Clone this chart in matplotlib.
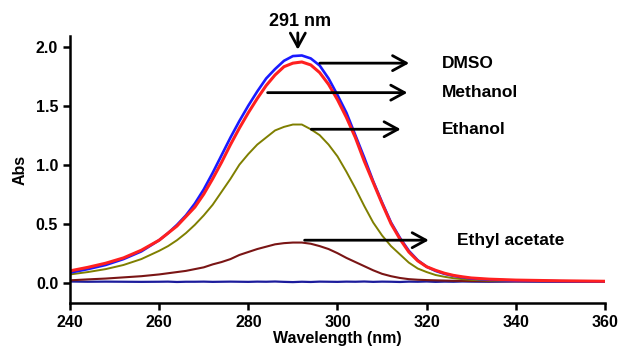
import matplotlib.pyplot as plt

plt.rcParams['font.family'] = ['Liberation Sans', 'DejaVu Sans']
plt.rcParams['font.weight'] = 'bold'

# Wavelength grid (nm) and absorbance.
wavelength = [240, 244, 248, 252, 256, 260, 262, 264, 266, 268, 270, 272, 274,
              276, 278, 280, 282, 284, 286, 288, 290, 292, 294, 296, 298, 300,
              302, 304, 306, 308, 310, 312, 314, 316, 318, 320, 322, 324, 326,
              328, 330, 334, 340, 350, 360]

dmso = [0.085, 0.115, 0.15, 0.20, 0.265, 0.36, 0.42, 0.49, 0.57, 0.67, 0.79,
        0.93, 1.08, 1.23, 1.37, 1.50, 1.62, 1.73, 1.81, 1.88, 1.92, 1.925,
        1.90, 1.84, 1.73, 1.59, 1.44, 1.25, 1.06, 0.86, 0.68, 0.51, 0.38, 0.27,
        0.19, 0.135, 0.10, 0.075, 0.058, 0.045, 0.035, 0.025, 0.017, 0.012,
        0.01]
methanol = [0.10, 0.13, 0.165, 0.21, 0.275, 0.36, 0.42, 0.48, 0.56, 0.64, 0.75,
            0.88, 1.02, 1.17, 1.31, 1.44, 1.56, 1.67, 1.76, 1.83, 1.86, 1.87,
            1.845, 1.78, 1.68, 1.55, 1.40, 1.23, 1.03, 0.85, 0.67, 0.50, 0.37,
            0.26, 0.185, 0.135, 0.105, 0.08, 0.062, 0.05, 0.04, 0.03, 0.022,
            0.016, 0.012]
ethanol = [0.07, 0.09, 0.115, 0.15, 0.20, 0.27, 0.31, 0.36, 0.42, 0.49, 0.57,
           0.66, 0.77, 0.88, 1.00, 1.09, 1.17, 1.23, 1.29, 1.32, 1.34, 1.34,
           1.30, 1.25, 1.17, 1.07, 0.94, 0.80, 0.65, 0.51, 0.40, 0.31, 0.24,
           0.17, 0.12, 0.09, 0.065, 0.05, 0.038, 0.03, 0.024, 0.018, 0.015,
           0.012, 0.01]
ethyl_acetate = [0.02, 0.028, 0.035, 0.045, 0.055, 0.07, 0.08, 0.09, 0.10,
                 0.115, 0.13, 0.155, 0.175, 0.20, 0.235, 0.26, 0.285, 0.305,
                 0.325, 0.335, 0.34, 0.34, 0.33, 0.31, 0.285, 0.25, 0.21,
                 0.175, 0.14, 0.105, 0.075, 0.055, 0.04, 0.03, 0.025, 0.022,
                 0.02, 0.018, 0.016, 0.015, 0.014, 0.013, 0.012, 0.011, 0.01]
baseline = [0.010, 0.008, 0.009, 0.008, 0.007, 0.008, 0.009, 0.006, 0.008,
            0.008, 0.009, 0.007, 0.008, 0.009, 0.008, 0.007, 0.009, 0.008,
            0.010, 0.007, 0.005, 0.008, 0.006, 0.009, 0.008, 0.007, 0.009,
            0.008, 0.010, 0.007, 0.009, 0.008, 0.006, 0.009, 0.008, 0.010,
            0.007, 0.009, 0.008, 0.010, 0.009, 0.008, 0.010, 0.009, 0.009]

# Label arrows: (text, arrow start nm, arrow end nm, y, text x)
labels = [('DMSO', 295.4, 316.7, 1.86, 323.4),
          ('Methanol', 283.7, 316.3, 1.61, 323.4),
          ('Ethanol', 293.5, 314.8, 1.30, 323.4),
          ('Ethyl acetate', 292.0, 321.1, 0.36, 326.7)]

fig = plt.figure(figsize=(6.22, 3.55), dpi=100)
ax = fig.add_axes([0.1125, 0.1465, 0.8602, 0.7521])

ax.plot(wavelength, baseline, color='#1c1c9c', lw=1.6)
ax.plot(wavelength, ethyl_acetate, color='#7a1515', lw=1.5)
ax.plot(wavelength, ethanol, color='#7f7f00', lw=1.4)
ax.plot(wavelength, dmso, color='#1a1aff', lw=1.9)
ax.plot(wavelength, methanol, color='#ff2020', lw=2.2)

arrow = dict(arrowstyle='->,head_length=0.55,head_width=0.3',
             lw=2.0, color='black', mutation_scale=18)
for name, x0, x1, y, tx in labels:
    ax.annotate('', xy=(x1, y), xytext=(x0, y), arrowprops=arrow)
    ax.text(tx, y, name, fontsize=12.5, fontweight='bold', va='center',
            ha='left')

ax.annotate('', xy=(291.1, 1.95), xytext=(291.1, 2.14), arrowprops=arrow,
            annotation_clip=False)
ax.text(291.7, 2.21, '291 nm', fontsize=13, fontweight='bold', ha='center',
        va='center')

ax.set_xlim(240, 360)
ax.set_ylim(-0.172, 2.09)
ax.set_xticks([240, 260, 280, 300, 320, 340, 360])
ax.set_yticks([0.0, 0.5, 1.0, 1.5, 2.0])
ax.set_yticklabels(['0.0', '0.5', '1.0', '1.5', '2.0'])

for side in ['top', 'right']:
    ax.spines[side].set_visible(False)
for side in ['left', 'bottom']:
    ax.spines[side].set_linewidth(1.8)
ax.tick_params(width=1.8, length=5, labelsize=11.5)
for lab in ax.get_xticklabels() + ax.get_yticklabels():
    lab.set_fontweight('bold')

ax.set_xlabel('Wavelength (nm)', fontsize=11.5, fontweight='bold', labelpad=1)
ax.set_ylabel('Abs', fontsize=11.5, fontweight='bold', labelpad=6)

fig.savefig('out.png', dpi=100)
